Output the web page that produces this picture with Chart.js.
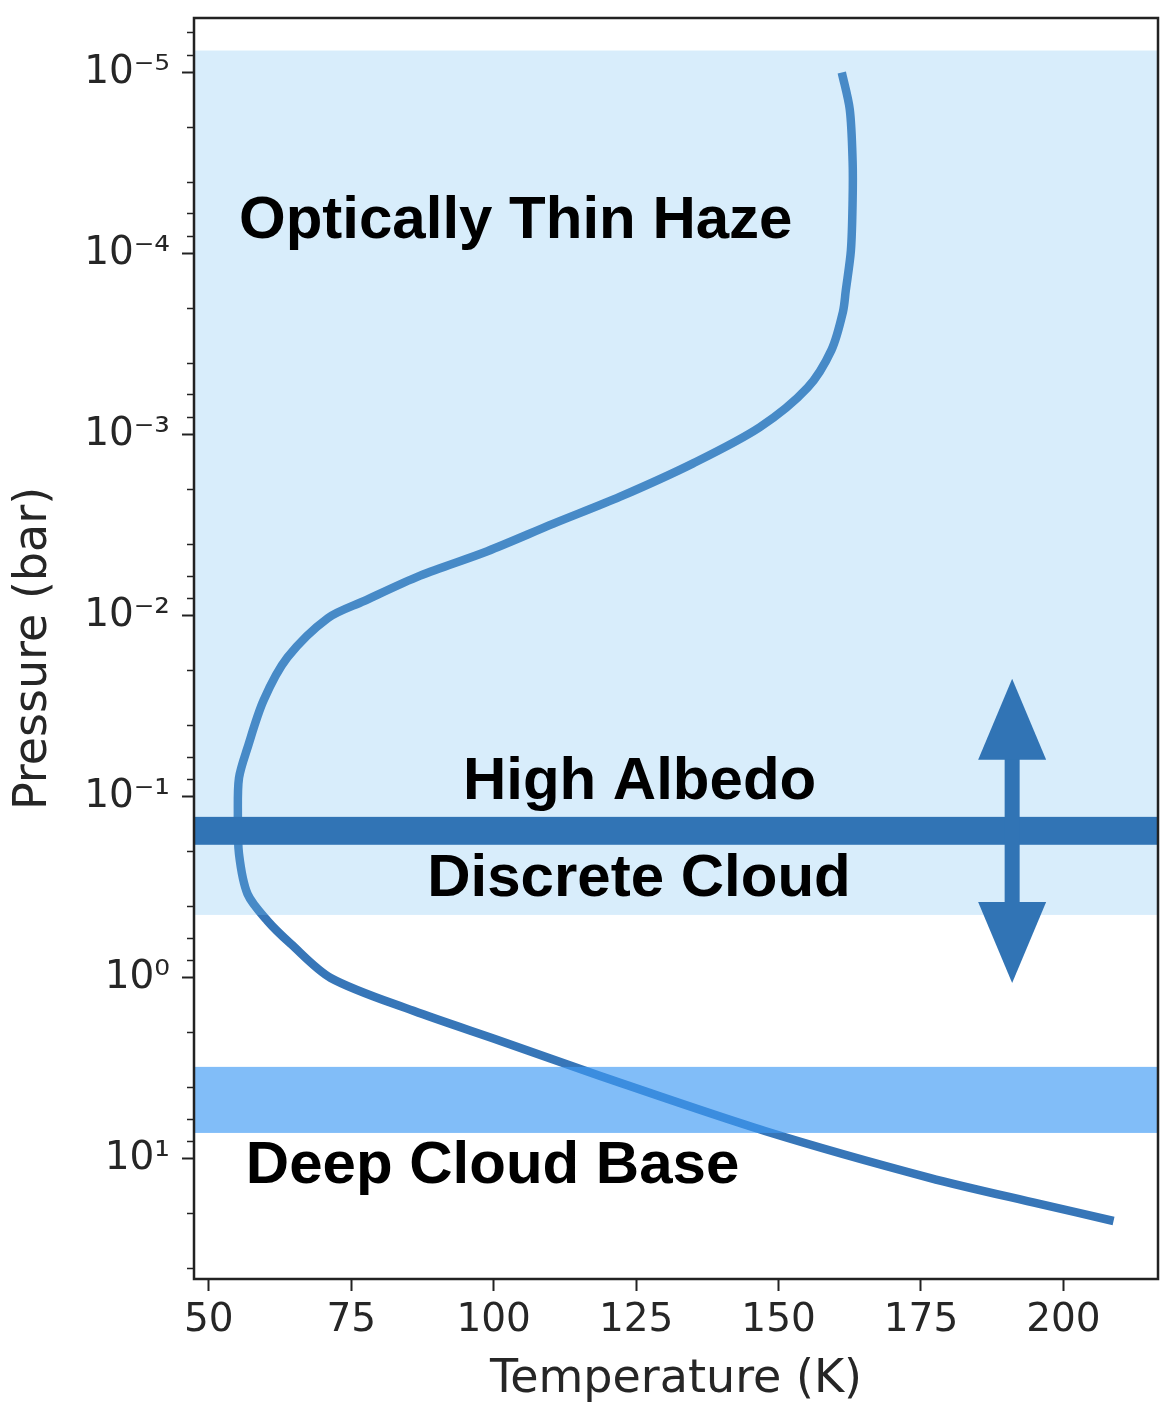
<!DOCTYPE html>
<html>
<head>
<meta charset="utf-8">
<script src="https://cdn.jsdelivr.net/npm/chart.js@4.4.0/dist/chart.umd.min.js"></script>
<style>
  html, body { margin: 0; padding: 0; background: #fff; }
  #wrap { width: 1174px; height: 1418px; }
</style>
</head>
<body>
<div id="wrap"><canvas id="profile" width="1174" height="1418"></canvas></div>
<script>
// temperature / pressure profile
const temperature = [161.1, 162.5, 163.0, 163.0, 162.7, 161.8, 161.3, 159.3, 155.1, 146.7,
                     135.0, 122.2, 110.5, 98.9, 87.1, 77.2, 70.9, 63.8, 59.6, 56.8,
                     55.3, 55.1, 55.3, 56.8, 60.3, 64.4, 71.4, 85.9, 101.2, 118.7,
                     147.6, 176.5, 195.8, 208.8];
const pressure = [1.0e-5, 1.6e-5, 3.1e-5, 5.1e-5, 9.6e-5, 1.6e-4, 2.1e-4, 3.4e-4, 5.5e-4, 9.1e-4,
                  1.44e-3, 2.2e-3, 3.1e-3, 4.4e-3, 6.0e-3, 8.3e-3, 0.0103, 0.0170, 0.0294, 0.0535,
                  0.0785, 0.124, 0.207, 0.344, 0.484, 0.649, 1.0, 1.52, 2.23, 3.48,
                  7.0, 12.7, 17.7, 22.0];

const xTicks = [50, 75, 100, 125, 150, 175, 200];
const yMajorTicks = [1e-5, 1e-4, 1e-3, 1e-2, 1e-1, 1, 10];
const yTickLabels = ['10\u207B\u2075', '10\u207B\u2074', '10\u207B\u00B3', '10\u207B\u00B2', '10\u207B\u00B9', '10\u2070', '10\u00B9'];
const yMinorMantissa = [2, 4, 6, 8];
const yMinorDecades = [1e-6, 1e-5, 1e-4, 1e-3, 1e-2, 1e-1, 1, 10];

// cloud layers (pressure ranges, bar)
const hazeLayer = [7.56e-6, 0.449];
const discreteCloud = [0.129, 0.184];
const deepCloud = [3.10, 7.18];
const arrowRange = [0.0223, 1.066];
const arrowTemp = 191.0;

const regionLabels = [
    {text: 'Optically Thin Haze', t: 55.3, p: 8.16e-5, align: 'left'},
    {text: 'High Albedo', t: 125.6, p: 0.1026, align: 'center'},
    {text: 'Discrete Cloud', t: 125.5, p: 0.352, align: 'center'},
    {text: 'Deep Cloud Base', t: 56.5, p: 13.6, align: 'left'}
];

const yMinorTicks = [];
yMinorDecades.forEach(d => yMinorMantissa.forEach(m => yMinorTicks.push(m * d)));

const overlay = {
    id: 'overlay',
    afterDatasetsDraw(chart) {
        const {ctx, chartArea: a, scales: {x, y}} = chart;
        ctx.save();

        const band = (range, color) => {
            const y0 = y.getPixelForValue(range[0]);
            const y1 = y.getPixelForValue(range[1]);
            ctx.fillStyle = color;
            ctx.fillRect(a.left, Math.min(y0, y1), a.right - a.left, Math.abs(y1 - y0));
        };
        band(hazeLayer, 'rgba(116,190,242,0.28)');
        band(deepCloud, 'rgba(61,154,244,0.65)');
        band(discreteCloud, '#3174b5');

        // double headed arrow
        const ax = x.getPixelForValue(arrowTemp);
        const yTop = y.getPixelForValue(arrowRange[0]);
        const yBot = y.getPixelForValue(arrowRange[1]);
        const head = 81, half = 34, shaft = 7.5;
        ctx.fillStyle = '#3174b5';
        ctx.fillRect(ax - shaft, yTop + head - 1, 2 * shaft, yBot - yTop - 2 * head + 2);
        ctx.beginPath();
        ctx.moveTo(ax, yTop);
        ctx.lineTo(ax + half, yTop + head);
        ctx.lineTo(ax - half, yTop + head);
        ctx.closePath();
        ctx.fill();
        ctx.beginPath();
        ctx.moveTo(ax, yBot);
        ctx.lineTo(ax + half, yBot - head);
        ctx.lineTo(ax - half, yBot - head);
        ctx.closePath();
        ctx.fill();

        // region labels
        ctx.fillStyle = '#000';
        ctx.font = 'bold 60px "Liberation Sans", Arial, sans-serif';
        ctx.textBaseline = 'alphabetic';
        regionLabels.forEach(l => {
            ctx.textAlign = l.align;
            ctx.fillText(l.text, x.getPixelForValue(l.t), y.getPixelForValue(l.p));
        });

        // minor ticks on the log axis
        ctx.strokeStyle = '#222';
        ctx.lineWidth = 1.5;
        yMinorTicks.forEach(v => {
            if (v < y.min || v > y.max) return;
            const py = Math.round(y.getPixelForValue(v)) + 0.5;
            ctx.beginPath();
            ctx.moveTo(a.left - 7, py);
            ctx.lineTo(a.left, py);
            ctx.stroke();
        });

        // frame
        ctx.lineWidth = 2.5;
        ctx.strokeRect(a.left, a.top, a.right - a.left, a.bottom - a.top);
        ctx.restore();
    }
};

const tickFont = {family: 'DejaVu Sans', size: 39};
const titleFont = {family: 'DejaVu Sans', size: 46};

new Chart(document.getElementById('profile'), {
    type: 'scatter',
    data: {
        datasets: [{
            data: temperature.map((t, i) => ({x: t, y: pressure[i]})),
            showLine: true,
            borderColor: '#3776b8',
            borderWidth: 8.5,
            borderCapStyle: 'butt',
            borderJoinStyle: 'round',
            pointRadius: 0,
            tension: 0.3,
            fill: false
        }]
    },
    options: {
        responsive: false,
        animation: false,
        devicePixelRatio: 1,
        layout: {padding: {top: 18, right: 16, left: 0, bottom: 0}},
        plugins: {legend: {display: false}, tooltip: {enabled: false}},
        scales: {
            x: {
                type: 'linear',
                min: 47.4,
                max: 216.6,
                afterBuildTicks: s => { s.ticks = xTicks.map(v => ({value: v})); },
                afterFit: s => { s.height = 139; s.paddingLeft = 0; s.paddingRight = 0; },
                grid: {drawOnChartArea: false, tickLength: 12, tickColor: '#222', tickWidth: 2},
                border: {color: '#222', width: 2},
                ticks: {font: tickFont, color: '#262626', padding: 6, maxRotation: 0, autoSkip: false},
                title: {display: true, text: 'Temperature (K)', font: titleFont, color: '#262626', padding: {top: 0, bottom: 10}}
            },
            y: {
                type: 'logarithmic',
                reverse: true,
                min: 5e-6,
                max: 46,
                afterBuildTicks: s => { s.ticks = yMajorTicks.map(v => ({value: v, major: true})); },
                afterFit: s => { s.width = 194; s.paddingTop = 0; s.paddingBottom = 0; },
                grid: {drawOnChartArea: false, tickLength: 12, tickColor: '#222', tickWidth: 2},
                border: {color: '#222', width: 2},
                ticks: {
                    font: tickFont,
                    color: '#262626',
                    padding: 12,
                    autoSkip: false,
                    callback: (value, index) => yTickLabels[index]
                },
                title: {display: true, text: 'Pressure (bar)', font: titleFont, color: '#262626', padding: {top: 6, bottom: 0}}
            }
        }
    },
    plugins: [overlay]
});
</script>
</body>
</html>
